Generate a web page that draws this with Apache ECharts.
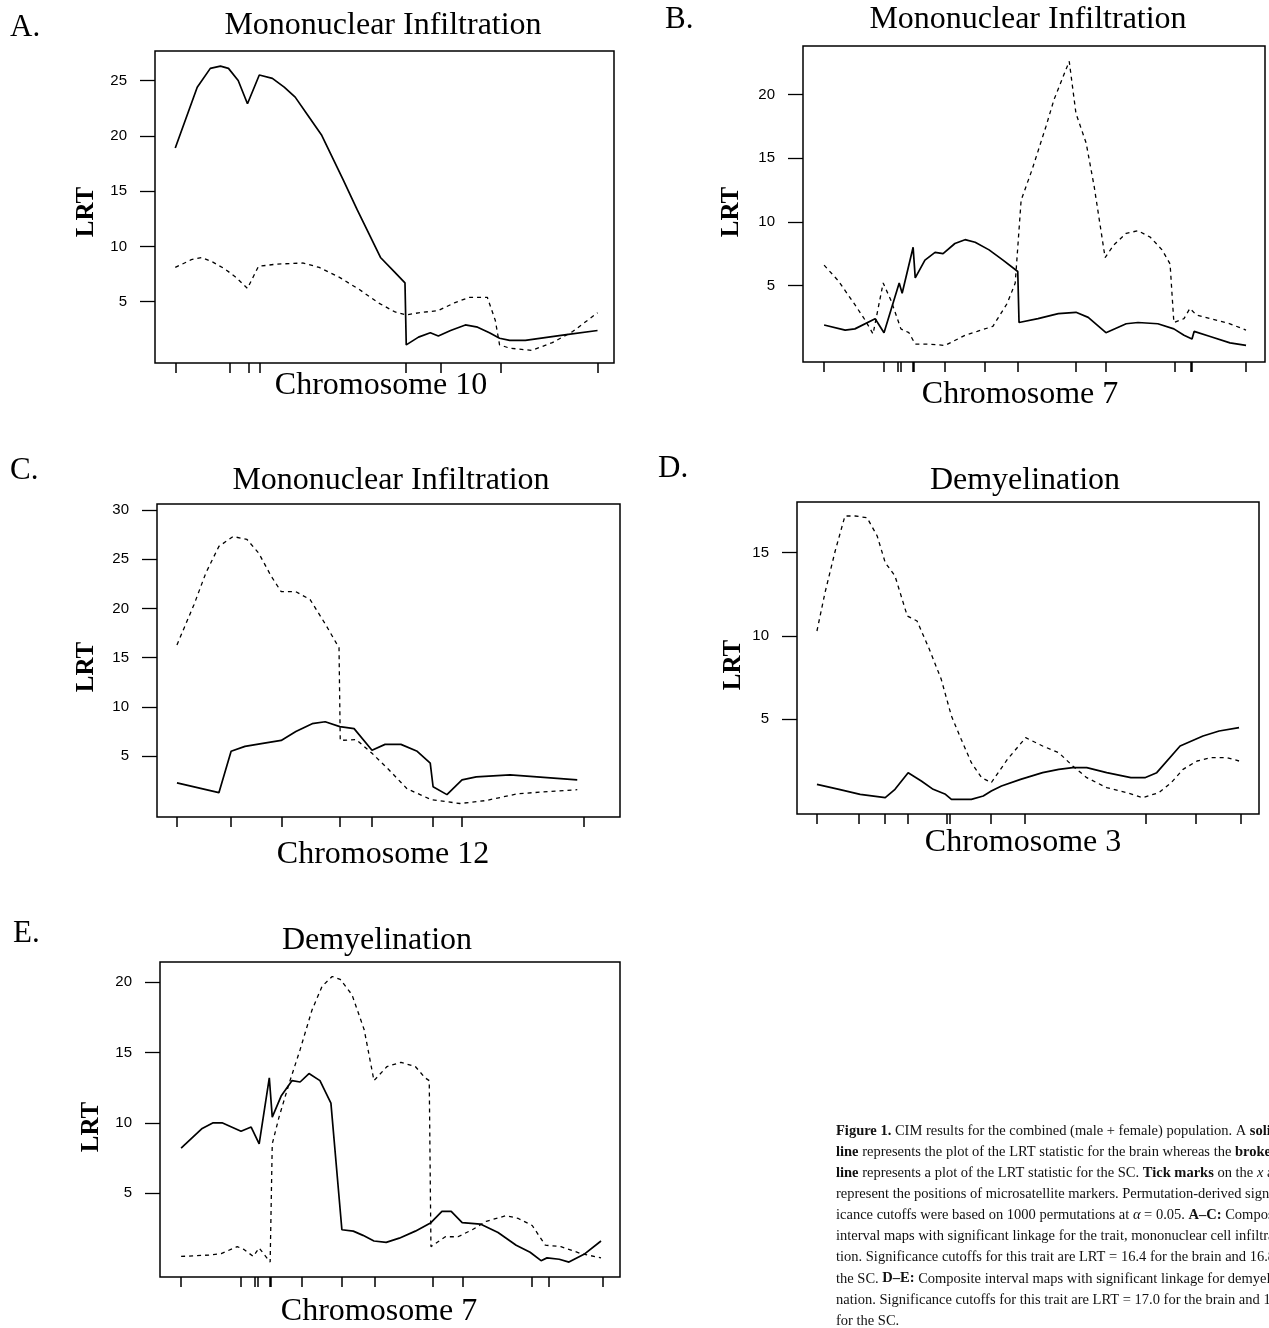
<!DOCTYPE html>
<html>
<head>
<meta charset="utf-8">
<title>Figure 1 - CIM results</title>
<script src="https://cdn.jsdelivr.net/npm/echarts@6/dist/echarts.min.js"></script>
<style>
  html, body { margin: 0; padding: 0; background: #fff; }
  #chart { width: 1269px; height: 1328px; }
</style>
</head>
<body>
<div id="chart"></div>
<script>
// marker positions on each chromosome (0 = first marker, 100 = last marker)
var chr10Markers = [0, 12.8, 17.3, 20.1, 54.7, 62.8, 77.0, 100];
var chr7Markers = [0, 14.2, 17.4, 18.1, 21.0, 21.3, 28.7, 38.1, 46.0, 59.6, 66.7, 83.0, 87.0, 87.2, 100];
var chr12Markers = [0, 13.3, 25.8, 40.0, 47.9, 62.8, 70.0, 100];
var chr3Markers = [0, 9.9, 16.0, 21.5, 30.7, 31.4, 41.0, 49.1, 77.6, 89.4, 100];

// A. Mononuclear infiltration, chromosome 10
var aBrainX = [0, 5.2, 8.3, 10.7, 12.6, 14.9, 17.1, 19.9, 23.0, 25.8, 28.4, 31.3, 34.6, 39.8, 43.1, 48.6, 51.9, 54.4, 54.7, 57.6, 60.4, 62.3, 65.2, 68.7, 71.6, 74.4, 76.8, 79.2, 82.9, 92.2, 100];
var aBrainY = [18.9, 24.4, 26.1, 26.3, 26.1, 25.0, 22.9, 25.5, 25.2, 24.4, 23.5, 21.9, 20.1, 16.0, 13.3, 9.0, 7.7, 6.7, 1.1, 1.8, 2.2, 1.9, 2.4, 2.9, 2.7, 2.2, 1.7, 1.5, 1.5, 2.0, 2.4];
var aScX = [0, 3.8, 6.2, 8.8, 11.6, 14.4, 17.1, 19.7, 24.0, 30.3, 34.1, 38.9, 43.6, 48.1, 51.9, 54.7, 57.6, 62.3, 66.1, 69.7, 73.9, 75.8, 76.8, 79.2, 84.4, 89.3, 94.1, 100];
var aScY = [8.1, 8.8, 9.0, 8.6, 8.0, 7.2, 6.2, 8.2, 8.4, 8.5, 8.1, 7.2, 6.1, 4.9, 4.1, 3.8, 4.0, 4.2, 4.9, 5.4, 5.4, 3.3, 1.1, 0.8, 0.6, 1.3, 2.3, 4.0];

// B. Mononuclear infiltration, chromosome 7
var bBrainX = [0, 5.0, 7.3, 12.1, 14.2, 17.8, 18.5, 21.1, 21.6, 23.9, 26.3, 28.2, 31.0, 33.4, 35.8, 39.1, 42.4, 45.9, 46.2, 50.7, 55.5, 59.7, 62.6, 66.8, 71.6, 74.4, 79.1, 82.9, 85.3, 87.2, 87.7, 91.5, 96.2, 100];
var bBrainY = [1.9, 1.5, 1.6, 2.4, 1.3, 5.2, 4.4, 8.0, 5.6, 7.0, 7.6, 7.5, 8.3, 8.6, 8.4, 7.8, 7.0, 6.1, 2.1, 2.4, 2.8, 2.9, 2.5, 1.3, 2.0, 2.1, 2.0, 1.6, 1.1, 0.8, 1.4, 1.0, 0.5, 0.3];
var bScX = [0, 3.3, 7.1, 9.7, 11.6, 14.0, 15.9, 18.2, 20.1, 21.6, 24.9, 28.7, 33.4, 36.3, 40.0, 43.4, 45.3, 46.7, 49.3, 52.6, 54.5, 58.1, 59.7, 62.1, 64.0, 66.6, 68.7, 71.6, 74.4, 77.3, 80.1, 82.0, 82.9, 85.3, 86.7, 88.2, 91.5, 96.2, 100];
var bScY = [6.6, 5.4, 3.6, 2.3, 1.2, 5.2, 3.8, 1.6, 1.3, 0.4, 0.4, 0.3, 1.1, 1.4, 1.8, 3.6, 5.2, 11.7, 14.1, 17.5, 19.6, 22.6, 18.5, 16.2, 12.8, 7.2, 8.2, 9.1, 9.3, 8.8, 7.8, 6.7, 2.1, 2.4, 3.2, 2.7, 2.4, 2.0, 1.5];

// C. Mononuclear infiltration, chromosome 12
var cBrainX = [0, 10.3, 13.3, 16.7, 21.1, 25.6, 29.2, 33.2, 36.4, 40.0, 43.5, 47.9, 51.1, 55.0, 59.0, 62.2, 62.9, 66.3, 70.0, 73.5, 81.8, 98.3];
var cBrainY = [2.3, 1.3, 5.5, 6.0, 6.3, 6.6, 7.5, 8.3, 8.5, 8.0, 7.8, 5.6, 6.2, 6.2, 5.5, 4.3, 1.9, 1.1, 2.6, 2.9, 3.1, 2.6];
var cScX = [0, 4.2, 7.1, 10.3, 13.8, 17.2, 20.1, 23.1, 25.6, 29.2, 32.7, 36.6, 39.8, 40.1, 44.0, 47.9, 52.1, 56.5, 62.4, 69.5, 75.9, 83.8, 98.3];
var cScY = [16.3, 20.4, 23.6, 26.3, 27.3, 27.0, 25.6, 23.3, 21.7, 21.7, 20.9, 18.3, 16.0, 6.6, 6.7, 5.3, 3.6, 1.7, 0.6, 0.2, 0.5, 1.2, 1.6];

// D. Demyelination, chromosome 3
var dBrainX = [0, 5.2, 10.2, 16.1, 18.4, 21.5, 24.6, 27.4, 30.3, 31.7, 36.4, 39.2, 41.1, 43.5, 48.0, 53.2, 57.0, 60.3, 63.6, 68.3, 74.0, 77.3, 80.1, 85.6, 91.0, 94.8, 99.5];
var dBrainY = [1.1, 0.8, 0.5, 0.3, 0.8, 1.8, 1.3, 0.8, 0.5, 0.2, 0.2, 0.4, 0.7, 1.0, 1.4, 1.8, 2.0, 2.1, 2.1, 1.8, 1.5, 1.5, 1.8, 3.4, 4.0, 4.3, 4.5];
var dScX = [0, 1.9, 4.3, 6.6, 9.0, 11.8, 14.2, 16.1, 18.4, 21.3, 23.6, 26.5, 29.3, 31.7, 34.0, 36.4, 38.8, 41.1, 44.9, 49.2, 53.2, 57.0, 60.3, 63.6, 68.3, 73.0, 76.8, 80.6, 83.5, 86.3, 89.6, 92.9, 96.7, 99.5];
var dScY = [10.3, 12.6, 15.1, 17.2, 17.2, 17.1, 16.0, 14.4, 13.6, 11.2, 10.9, 9.2, 7.4, 5.2, 3.8, 2.4, 1.5, 1.2, 2.6, 3.9, 3.4, 3.0, 2.2, 1.5, 0.9, 0.6, 0.3, 0.6, 1.2, 2.0, 2.5, 2.7, 2.7, 2.5];

// E. Demyelination, chromosome 7
var eBrainX = [0, 5.0, 7.6, 9.7, 14.2, 16.6, 18.5, 20.9, 21.6, 23.7, 26.3, 28.2, 30.3, 32.9, 35.5, 38.1, 40.8, 43.1, 45.7, 48.6, 51.7, 55.5, 59.2, 61.8, 64.0, 66.6, 70.9, 75.1, 79.4, 82.7, 85.3, 86.7, 89.6, 91.9, 95.7, 99.5];
var eBrainY = [8.2, 9.6, 10.0, 10.0, 9.4, 9.7, 8.5, 13.2, 10.4, 11.9, 13.0, 12.9, 13.5, 13.0, 11.4, 2.4, 2.3, 2.0, 1.6, 1.5, 1.8, 2.3, 2.9, 3.7, 3.7, 2.9, 2.8, 2.2, 1.3, 0.8, 0.2, 0.4, 0.3, 0.1, 0.7, 1.6];
var eScX = [0, 6.6, 9.5, 13.3, 14.9, 17.1, 18.5, 21.1, 21.6, 23.2, 25.6, 28.2, 31.0, 33.4, 35.8, 37.7, 40.5, 43.4, 45.7, 48.8, 52.1, 55.5, 57.8, 58.8, 59.2, 62.6, 65.6, 69.0, 72.3, 77.0, 79.9, 83.2, 86.3, 90.0, 94.8, 99.5];
var eScY = [0.5, 0.6, 0.7, 1.2, 1.0, 0.5, 1.1, 0.1, 8.5, 10.4, 12.8, 15.2, 18.0, 19.7, 20.4, 20.2, 19.1, 16.6, 13.0, 14.0, 14.3, 14.0, 13.2, 13.0, 1.2, 1.9, 1.9, 2.4, 3.0, 3.4, 3.2, 2.7, 1.3, 1.2, 0.7, 0.4];

// y tick labels
var aTicks = [5, 10, 15, 20, 25];
var bTicks = [5, 10, 15, 20];
var cTicks = [5, 10, 15, 20, 25, 30];
var dTicks = [5, 10, 15];
var eTicks = [5, 10, 15, 20];

var SERIF = '"Liberation Serif", "DejaVu Serif", serif';
var SANS = '"Liberation Sans", Arial, sans-serif';

function zip(xs, ys) {
    var out = [];
    for (var i = 0; i < xs.length; i++) {
        out.push([xs[i], ys[i]]);
    }
    return out;
}

// one panel = grid + axes + brain (solid) + SC (broken)
var panels = [
    {grid: {left: 155, top: 51, width: 459, height: 312}, xMin: -4.8, xMax: 103.9, yMin: -0.54, yMax: 27.67,
        markers: chr10Markers, ticks: aTicks, brain: zip(aBrainX, aBrainY), sc: zip(aScX, aScY)},
    {grid: {left: 803, top: 46, width: 462, height: 316}, xMin: -5.0, xMax: 104.5, yMin: -1.0, yMax: 23.8,
        markers: chr7Markers, ticks: bTicks, brain: zip(bBrainX, bBrainY), sc: zip(bScX, bScY)},
    {grid: {left: 157, top: 504, width: 463, height: 313}, xMin: -4.9, xMax: 108.8, yMin: -1.17, yMax: 30.6,
        markers: chr12Markers, ticks: cTicks, brain: zip(cBrainX, cBrainY), sc: zip(cScX, cScY)},
    {grid: {left: 797, top: 502, width: 462, height: 312}, xMin: -4.7, xMax: 104.2, yMin: -0.68, yMax: 18.04,
        markers: chr3Markers, ticks: dTicks, brain: zip(dBrainX, dBrainY), sc: zip(dScX, dScY)},
    {grid: {left: 160, top: 962, width: 460, height: 315}, xMin: -5.0, xMax: 104.0, yMin: -0.96, yMax: 21.43,
        markers: chr7Markers, ticks: eTicks, brain: zip(eBrainX, eBrainY), sc: zip(eScX, eScY)}
];

var grids = [], xAxes = [], yAxes = [], series = [];
panels.forEach(function (p, i) {
    grids.push({
        left: p.grid.left, top: p.grid.top, width: p.grid.width, height: p.grid.height,
        show: true, borderColor: '#000', borderWidth: 1.5, backgroundColor: 'transparent'
    });
    xAxes.push({
        gridIndex: i, type: 'value', min: p.xMin, max: p.xMax, position: 'bottom',
        axisLine: {show: false, onZero: false},
        axisTick: {show: true, inside: false, customValues: p.markers, length: 10, lineStyle: {color: '#000', width: 1.5}},
        axisLabel: {show: false},
        splitLine: {show: false}
    });
    yAxes.push({
        gridIndex: i, type: 'value', min: p.yMin, max: p.yMax, position: 'left',
        axisLine: {show: false, onZero: false},
        axisTick: {show: true, inside: false, customValues: p.ticks, length: 15, lineStyle: {color: '#000', width: 1.3}},
        axisLabel: {customValues: p.ticks, margin: 28, color: '#000', fontFamily: SANS, fontSize: 15},
        splitLine: {show: false}
    });
    series.push({
        type: 'line', xAxisIndex: i, yAxisIndex: i, data: p.brain,
        symbol: 'none', smooth: false,
        lineStyle: {color: '#000', width: 1.7, type: 'solid'}
    });
    series.push({
        type: 'line', xAxisIndex: i, yAxisIndex: i, data: p.sc,
        symbol: 'none', smooth: false,
        lineStyle: {color: '#000', width: 1.3, type: [4, 4]}
    });
});

function label(text, x, y, size, opts) {
    opts = opts || {};
    return {
        type: 'text', x: x, y: y, rotation: opts.rotation || 0, silent: true,
        style: {
            text: text, fill: '#000', fontFamily: SERIF, fontSize: size,
            fontWeight: opts.bold ? 'bold' : 'normal',
            textAlign: opts.align || 'center', textVerticalAlign: 'middle'
        }
    };
}

var graphics = [
    // panel letters
    label('A.', 10, 28, 31, {align: 'left'}),
    label('B.', 665, 20, 31, {align: 'left'}),
    label('C.', 10, 471, 31, {align: 'left'}),
    label('D.', 658, 469, 31, {align: 'left'}),
    label('E.', 13, 934, 31, {align: 'left'}),
    // titles
    label('Mononuclear Infiltration', 383, 26, 32),
    label('Mononuclear Infiltration', 1028, 20, 32),
    label('Mononuclear Infiltration', 391, 481, 32),
    label('Demyelination', 1025, 481, 32),
    label('Demyelination', 377, 941, 32),
    // x axis names
    label('Chromosome 10', 381, 386, 32),
    label('Chromosome 7', 1020, 395, 32),
    label('Chromosome 12', 383, 855, 32),
    label('Chromosome 3', 1023, 843, 32),
    label('Chromosome 7', 379, 1312, 32),
    // y axis names
    label('LRT', 87, 212, 25, {rotation: Math.PI / 2, bold: true}),
    label('LRT', 732, 212, 25, {rotation: Math.PI / 2, bold: true}),
    label('LRT', 87, 667, 25, {rotation: Math.PI / 2, bold: true}),
    label('LRT', 734, 665, 25, {rotation: Math.PI / 2, bold: true}),
    label('LRT', 92, 1127, 25, {rotation: Math.PI / 2, bold: true})
];

// figure legend (runs past the right edge, as in the page)
var captionLines = [
    '{b|Figure 1.} CIM results for the combined (male + female) population. A {b|solid}',
    '{b|line} represents the plot of the LRT statistic for the brain whereas the {b|broken}',
    '{b|line} represents a plot of the LRT statistic for the SC. {b|Tick marks} on the {i|x} axis',
    'represent the positions of microsatellite markers. Permutation-derived signif-',
    'icance cutoffs were based on 1000 permutations at {i|\u03b1} = 0.05. {b|A\u2013C:} Composite',
    'interval maps with significant linkage for the trait, mononuclear cell infiltra-',
    'tion. Significance cutoffs for this trait are LRT = 16.4 for the brain and 16.8 for',
    'the SC. {b|D\u2013E:} Composite interval maps with significant linkage for demyeli-',
    'nation. Significance cutoffs for this trait are LRT = 17.0 for the brain and 17.',
    'for the SC.'
];
var CAP = 14.5;
captionLines.forEach(function (line, k) {
    graphics.push({
        type: 'text', x: 836, y: 1131 + k * 21.1, silent: true,
        style: {
            text: line, fill: '#111', fontFamily: SERIF, fontSize: CAP,
            textAlign: 'left', textVerticalAlign: 'middle',
            rich: {
                b: {fontFamily: SERIF, fontSize: CAP, fontWeight: 'bold', fill: '#111'},
                i: {fontFamily: SERIF, fontSize: CAP, fontStyle: 'italic', fill: '#111'}
            }
        }
    });
});

var myChart = echarts.init(document.getElementById('chart'), null, {renderer: 'canvas'});
myChart.setOption({
    backgroundColor: '#fff',
    animation: false,
    grid: grids,
    xAxis: xAxes,
    yAxis: yAxes,
    series: series,
    graphic: graphics
});
</script>
</body>
</html>
